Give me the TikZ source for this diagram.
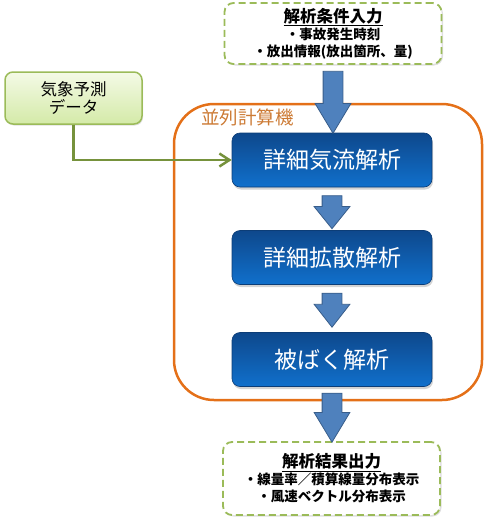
\documentclass[tikz,border=0pt]{standalone}
\usepackage{fontspec}
\newfontfamily\jp{Noto Sans CJK JP}
\usetikzlibrary{shapes.arrows,shadows,arrows.meta,calc}
\definecolor{gborder}{RGB}{155,187,89}
\definecolor{orangeb}{RGB}{228,112,24}
\definecolor{orangetxt}{RGB}{204,122,52}
\definecolor{arrowfill}{RGB}{79,129,189}
\definecolor{arrowdraw}{RGB}{56,93,138}
\definecolor{btop}{RGB}{14,72,140}
\definecolor{bbot}{RGB}{16,112,204}
\definecolor{conn}{RGB}{118,146,60}
\definecolor{lgtop}{RGB}{244,250,230}
\definecolor{lgbot}{RGB}{212,234,168}
\newcommand\ttl[1]{{\fontsize{16.5}{17.5}\selectfont\underline{#1}}}
\begin{document}
\begin{tikzpicture}[x=1pt,y=-1pt,font=\jp,
 dashbox/.style={draw=gborder, line width=1.8pt, dash pattern=on 7pt off 4pt,
   rounded corners=9pt, fill=white, inner sep=0pt, align=center,
   minimum width=217pt, font=\jp\bfseries\fontsize{13.5}{17}\selectfont,
   drop shadow={opacity=0.25,shadow xshift=1.5pt,shadow yshift=-1.5pt}},
 stepbox/.style={rounded corners=8pt, top color=btop, bottom color=bbot,
   draw=btop!85!black, line width=0.6pt, minimum width=200pt, minimum height=54pt,
   text=white, font=\jp\fontsize{23}{26}\selectfont,
   drop shadow={opacity=0.35,shadow xshift=1pt,shadow yshift=-2.5pt}},
 inbox/.style={rounded corners=8pt, top color=lgtop, bottom color=lgbot,
   draw=gborder, line width=1.5pt, minimum width=137pt, minimum height=52pt,
   align=center, font=\jp\fontsize{16.5}{18}\selectfont,
   drop shadow={opacity=0.25,shadow xshift=1pt,shadow yshift=-1.5pt}},
 container/.style={draw=orangeb, line width=2.5pt, rounded corners=40pt,
   minimum width=308pt, minimum height=296pt, inner sep=0pt},
 barrow/.style={single arrow, rotate=-90, fill=arrowfill, draw=arrowdraw,
   line width=0.8pt, inner xsep=0pt, inner ysep=9.5pt,
   single arrow head extend=8pt, single arrow head indent=0pt, anchor=tail},
 connector/.style={draw=conn, line width=2.5pt,
   -{Straight Barb[length=10pt,width=13pt]}},
]
\useasboundingbox (0,0) rectangle (485,522);

\node[container] (par) at (328,252) {};
\node[anchor=west, text=orangetxt, font=\jp\fontsize{18.5}{20}\selectfont, inner sep=0pt]
  (parlabel) at (201,117) {並列計算機};

\node[dashbox, minimum height=61pt] (top) at (333,33.5)
  {\ttl{解析条件入力}\\
   ・事故発生時刻\\
   ・放出情報(放出箇所、量)};

\node[stepbox] (b1) at (332,160) {詳細気流解析};
\node[stepbox] (b2) at (332,257.5) {詳細拡散解析};
\node[stepbox] (b3) at (332,359.5) {被ばく解析};

\node[dashbox, minimum height=73pt] (bot) at (331.5,478.5)
  {\ttl{解析結果出力}\\
   ・線量率／積算線量分布表示\\
   ・風速ベクトル分布表示};

\node[inbox] (g) at (73.5,98) {気象予測\\データ};

\node[barrow, minimum height=62pt, single arrow tip angle=62] (a0)
  at ($(top.south)+(0,6)$) {};
\node[barrow, minimum height=33pt, single arrow tip angle=78] (a1)
  at ($(b1.south)+(0,8)$) {};
\node[barrow, minimum height=34pt, single arrow tip angle=76] (a2)
  at ($(b2.south)+(0,8)$) {};
\node[barrow, minimum height=49pt, single arrow tip angle=62] (a3)
  at ($(b3.south)+(0,6)$) {};

\draw[connector] (g.south) |- (b1.west);
\end{tikzpicture}
\end{document}
